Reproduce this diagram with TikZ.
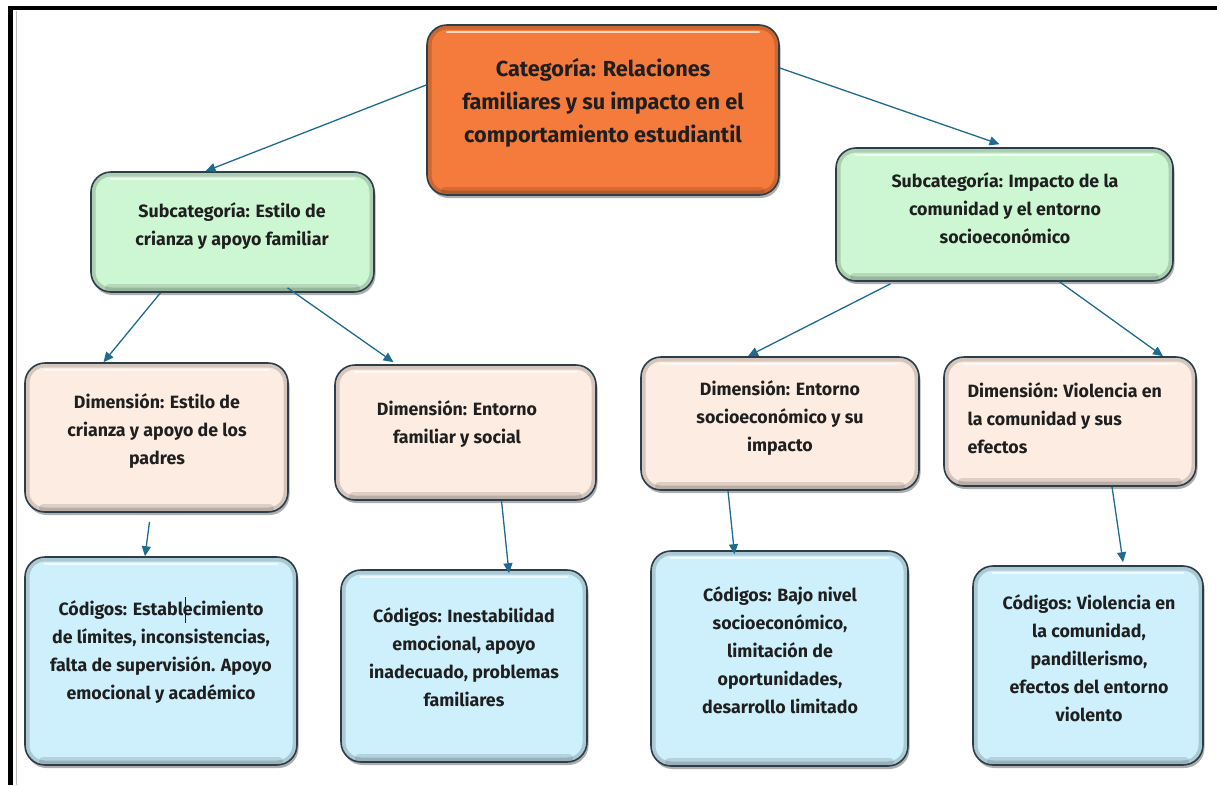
\documentclass[tikz,border=0pt]{standalone}
\usepackage{fontspec}
\setmainfont{Fira Sans}
\usetikzlibrary{shadows,arrows.meta,calc}

\definecolor{catfill}{HTML}{F47B3B}
\definecolor{subfill}{HTML}{CDF7D3}
\definecolor{dimfill}{HTML}{FDECE2}
\definecolor{codfill}{HTML}{CDF0FC}
\definecolor{edgecol}{HTML}{2C3E4A}
\definecolor{linkcol}{HTML}{1F6A8F}

\tikzset{
  box/.style={draw=edgecol, line width=1.6pt, rounded corners=20pt,
    drop shadow={shadow xshift=1.5pt, shadow yshift=-3pt, opacity=0.45, fill=black!70},
    path picture={
      \draw[black, opacity=0.16, line width=9pt, rounded corners=20pt]
        (path picture bounding box.north west) rectangle (path picture bounding box.south east);
      \draw[black, opacity=0.12, line width=8pt, line cap=round]
        ([shift={(18pt,4pt)}]path picture bounding box.south west) --
        ([shift={(-18pt,4pt)}]path picture bounding box.south east);
      \draw[white, opacity=0.7, line width=2.5pt, line cap=round]
        ([shift={(20pt,-7pt)}]path picture bounding box.north west) --
        ([shift={(-20pt,-7pt)}]path picture bounding box.north east);
    }},
  label/.style={font=\bfseries\fontsize{17.8}{28}\selectfont, align=center, text=black!88},
  link/.style={draw=linkcol, line width=1.3pt, -{Triangle[length=10pt,width=9pt]}},
}

\begin{document}
\begin{tikzpicture}[x=1pt, y=-1pt]
\useasboundingbox (0,0) rectangle (1217,785);

% page frame
\draw[black, line width=4pt] (8,8) -- (1217,8);
\draw[black, line width=5pt] (10.5,6) -- (10.5,785);
\draw[black!25, line width=1pt] (16.5,11) -- (16.5,785);

% boxes
\node[box, fill=catfill, minimum width=352pt, minimum height=170pt] (cat) at (603,110) {};
\node[box, fill=subfill, minimum width=283pt, minimum height=120pt] (subL) at (232.5,232) {};
\node[box, fill=subfill, minimum width=337pt, minimum height=133pt] (subR) at (1004.5,214.5) {};
\node[box, fill=dimfill, minimum width=263pt, minimum height=149pt] (dimA) at (156.5,437.5) {};
\node[box, fill=dimfill, minimum width=261pt, minimum height=135pt] (dimB) at (465.5,432.5) {};
\node[box, fill=dimfill, minimum width=278pt, minimum height=133pt] (dimC) at (780,423.5) {};
\node[box, fill=dimfill, minimum width=252pt, minimum height=129pt] (dimD) at (1070,421.5) {};
\node[box, fill=codfill, minimum width=272pt, minimum height=208pt] (codA) at (161,661) {};
\node[box, fill=codfill, minimum width=246pt, minimum height=192pt] (codB) at (464,666) {};
\node[box, fill=codfill, minimum width=257pt, minimum height=215pt] (codC) at (779.5,658.5) {};
\node[box, fill=codfill, minimum width=230pt, minimum height=199pt] (codD) at (1088,665.5) {};

% texts
\node[label, font=\bfseries\fontsize{21.7}{33}\selectfont] (catT) at (603,103)
  {Categoría: Relaciones\\familiares y su impacto en el\\comportamiento estudiantil};
\node[label] (subLT) at (232,226) {Subcategoría: Estilo de\\crianza y apoyo familiar};
\node[label] (subRT) at (1005,208) {Subcategoría: Impacto de la\\comunidad y el entorno\\socioeconómico};
\node[label] (dimAT) at (157,431) {Dimensión: Estilo de\\crianza y apoyo de los\\padres};
\node[label] (dimBT) at (457,424) {Dimensión: Entorno\\familiar y social};
\node[label] (dimCT) at (780,418) {Dimensión: Entorno\\socioeconómico y su\\impacto};
\node[label, align=left, anchor=west] (dimDT) at (964,418) {Dimensión: Violencia en\\la comunidad y sus\\efectos};
\node[label] (codAT) at (161,652.5) {Códigos: Establecimiento\\de límites, inconsistencias,\\falta de supervisión. Apoyo\\emocional y académico};
\node[label] (codBT) at (464,657) {Códigos: Inestabilidad\\emocional, apoyo\\inadecuado, problemas\\familiares};
\node[label] (codCT) at (780,650) {Códigos: Bajo nivel\\socioeconómico,\\limitación de\\oportunidades,\\desarrollo limitado};
\node[label] (codDT) at (1089,658) {Códigos: Violencia en\\la comunidad,\\pandillerismo,\\efectos del entorno\\violento};

% text cursor mark
\draw[black!60!red, line width=0.8pt] (185,597) -- (185,623);

% connectors
\draw[link] ([yshift=25pt]cat.west) -- ([xshift=-27pt]subL.north);
\draw[link] ([yshift=42pt]cat.east) -- ([xshift=-5pt,yshift=3pt]subR.north);
\draw[link] ([xshift=-72pt]subL.south) -- ([xshift=-53pt]dimA.north);
\draw[link] ([xshift=55pt,yshift=5pt]subL.south) -- ([xshift=-72pt,yshift=2pt]dimB.north);
\draw[link] ([xshift=-114pt,yshift=-2pt]subR.south) -- ([xshift=-32pt]dimC.north);
\draw[link] ([xshift=55pt]subR.south) -- ([xshift=93pt]dimD.north);
\draw[link] ([xshift=-7pt,yshift=-9pt]dimA.south) -- ([xshift=-16pt]codA.north);
\draw[link] ([xshift=36pt]dimB.south) -- ([xshift=45pt,yshift=-4pt]codB.north);
\draw[link] ([xshift=-52pt]dimC.south) -- ([xshift=-45pt,yshift=-4pt]codC.north);
\draw[link] ([xshift=42pt]dimD.south) -- ([xshift=35pt,yshift=3pt]codD.north);
\end{tikzpicture}
\end{document}
